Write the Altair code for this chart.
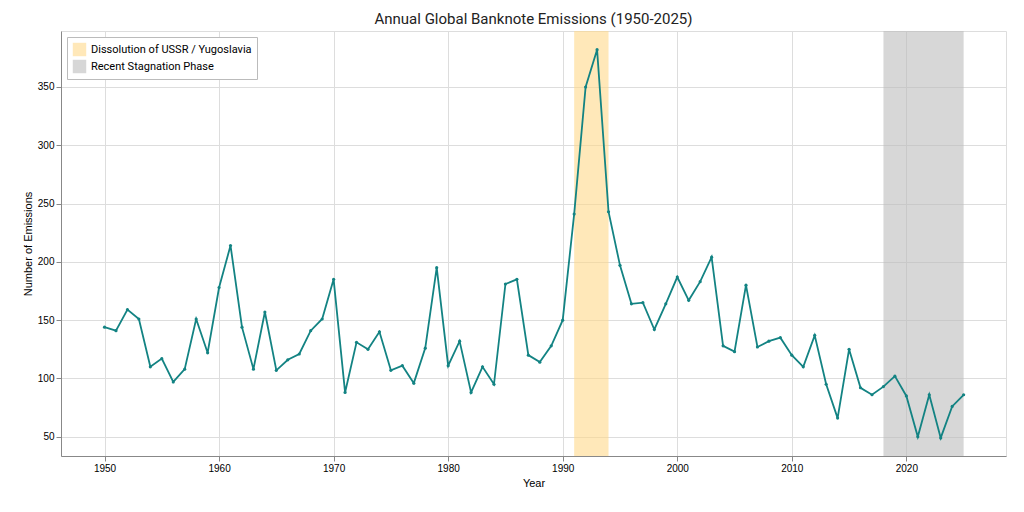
import altair as alt
import pandas as pd

years = list(range(1950, 2026))
values = [144,141,159,151,110,117,97,108,151,122,178,214,144,108,157,107,116,121,141,151,
          185,88,131,125,140,107,111,96,126,195,111,132,88,110,95,181,185,120,114,128,
          150,241,350,382,243,197,164,165,142,164,187,167,183,204,128,123,180,127,132,135,
          120,110,137,95,66,125,92,86,93,102,85,50,86,49,76,86]
period_names = ["Dissolution of USSR / Yugoslavia", "Recent Stagnation Phase"]
period_start = [1991, 2018]
period_end = [1994, 2025]
period_colors = ["#ffd88a", "#bdbdbd"]

df = pd.DataFrame({"Year": years, "Emissions": values})
pdf = pd.DataFrame({"name": period_names, "start": period_start, "end": period_end})

xs = alt.Scale(domain=[1946.2, 2028.7], nice=False, zero=False)
ys = alt.Scale(domain=[33.5, 398], nice=False, zero=False)

bands = alt.Chart(pdf).mark_rect(opacity=0.6).encode(
    x=alt.X("start:Q", scale=xs),
    x2="end:Q",
    color=alt.Color("name:N", scale=alt.Scale(domain=period_names, range=period_colors),
                    legend=alt.Legend(title=None, orient="top-left", labelFontSize=11,
                                      labelFont="Roboto", labelLimit=0, symbolType="square",
                                      symbolSize=180, strokeColor="#bbbbbb", padding=5,
                                      fillColor="white", symbolOpacity=0.6, offset=6)),
)

line = alt.Chart(df).mark_line(color="#138383", strokeWidth=1.8,
                               point=alt.OverlayMarkDef(color="#138383", size=10)).encode(
    x=alt.X("Year:Q", scale=xs,
            axis=alt.Axis(title="Year", titleFontWeight="normal",
                          values=list(range(1950, 2030, 10)), format="d", grid=True)),
    y=alt.Y("Emissions:Q", scale=ys,
            axis=alt.Axis(title="Number of Emissions", titleFontWeight="normal",
                          values=list(range(50, 400, 50)), grid=True)),
)

chart = alt.layer(bands, line).properties(
    width=945, height=425,
    title=alt.TitleParams("Annual Global Banknote Emissions (1950-2025)", fontSize=15,
                          fontWeight="normal", font="Roboto", color="#222"),
).configure_view(stroke=None).configure_axis(
    gridColor="#b5b5b5", gridWidth=1, domainColor="#333", tickColor="#333",
    labelFont="Roboto", titleFont="Roboto", labelFontSize=12, titleFontSize=13,
    labelColor="#222", titleColor="#222",
).configure(padding={"left": 14, "top": 4, "right": 5, "bottom": 2})

chart.save("out.html", embed_options={"renderer": "svg", "actions": False})
